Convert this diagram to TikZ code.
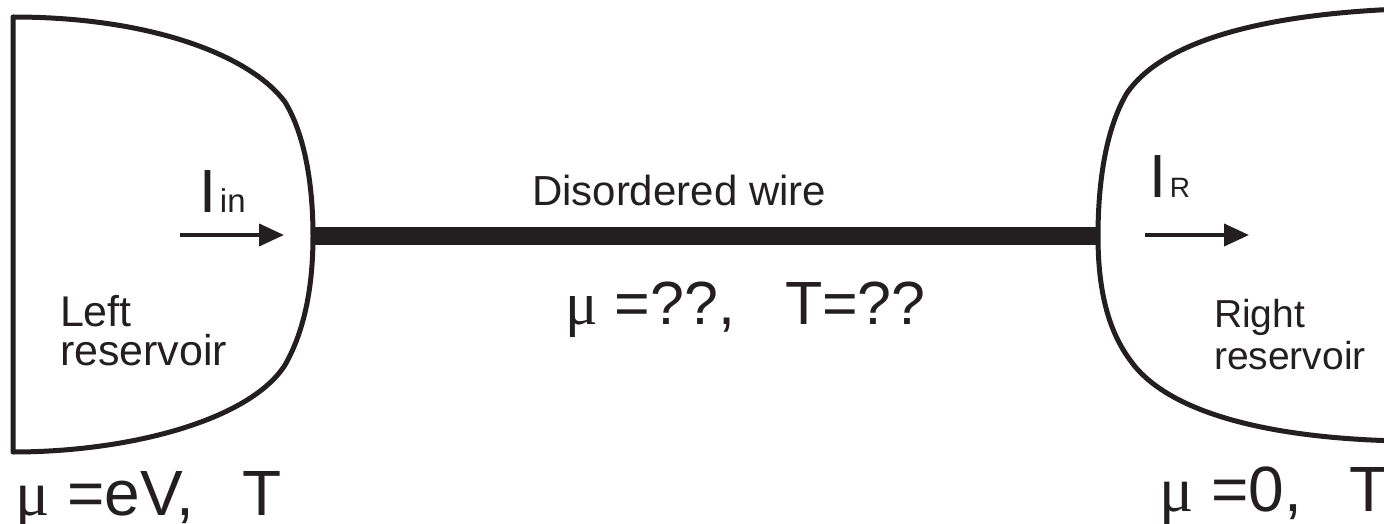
\documentclass[tikz,border=0pt]{standalone}
\usepackage{fontspec}
\setmainfont{Liberation Sans}
\newfontfamily\greekfont{Liberation Serif}
\usetikzlibrary{arrows.meta}
\definecolor{ink}{RGB}{35,31,32}
\newcommand{\fsz}[1]{\fontsize{#1}{#1}\selectfont}
\newcommand{\mug}{{\greekfont μ}}
\begin{document}
\begin{tikzpicture}[x=1pt,y=-1pt,
  outline/.style={draw=ink, line width=5pt, line join=round},
  wirebar/.style={draw=ink, line width=18pt},
  current/.style={draw=ink, line width=4pt, -{Triangle[length=25pt,width=22pt]}},
  lbl/.style={inner sep=0pt, outer sep=0pt, anchor=base west, text=ink},
  tank/.style={lbl, align=left, font=\fsz{43}}]
\useasboundingbox (0,0) rectangle (1384,524);

% contact points of the wire on both reservoirs
\coordinate (lcontact) at (313,236);
\coordinate (rcontact) at (1098,236);

% left reservoir
\draw[outline] (13,452) -- (13,17)
  .. controls (150,17) and (250,55) .. (285,102)
  .. controls (305,135) and (313,185) .. (lcontact)
  .. controls (313,285) and (305,330) .. (285,365)
  .. controls (250,420) and (130,452) .. (13,452) -- cycle;

% right reservoir, open beyond the right border
\draw[outline] (1400,9) .. controls (1250,15) and (1160,45) .. (1127,93)
  .. controls (1105,130) and (1098,185) .. (rcontact)
  .. controls (1098,290) and (1108,330) .. (1130,360)
  .. controls (1165,410) and (1260,438) .. (1400,441);

% the disordered wire
\draw[wirebar] (lcontact) -- (rcontact);

% currents
\coordinate (inA) at (180,235);
\coordinate (inB) at (284,235);
\coordinate (rA) at (1145,235);
\coordinate (rB) at (1249,235);
\draw[current] (inA) -- (inB);
\draw[current] (rA) -- (rB);

% labels
\node[lbl] (iin) at (199,212) {\fsz{61}I\fsz{33}\hspace{4pt}in};
\node[lbl] (ir) at (1149,197) {\fsz{61}I\fsz{28}\hspace{4pt}R};
\node[lbl] (wire) at (532,205) {\fsz{42}Disordered wire};
\node[lbl] (wirepar) at (565,324) {\fsz{61}\mug{} =??,\hspace{50pt}T=??};
\node[tank] (lname) at (60,365) {Left\\[-4pt]reservoir};
\node[tank, font=\fsz{39}] (rname) at (1214,369) {Right\\[3pt]reservoir};
\node[lbl] (lpar) at (15,515) {\fsz{64}\mug{} =eV,\hspace{48pt}T};
\node[lbl] (rpar) at (1159,511) {\fsz{64}\mug{} =0,\hspace{48pt}T};
\end{tikzpicture}
\end{document}
